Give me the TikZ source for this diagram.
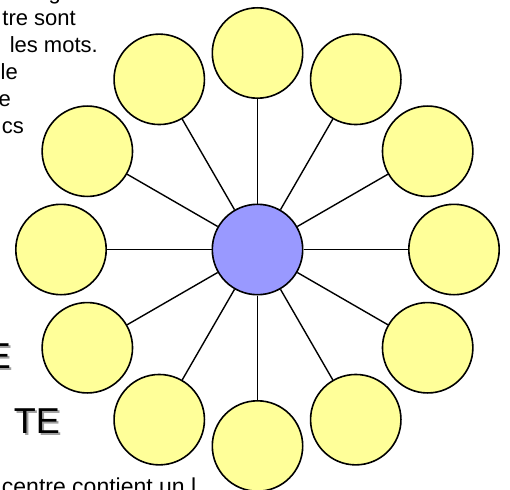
\documentclass[tikz,border=0pt]{standalone}
\usepackage{fontspec}
\setmainfont{Liberation Sans}
\definecolor{petalfill}{HTML}{FFFF99}
\definecolor{hubfill}{HTML}{9999FF}
\definecolor{shadowgray}{HTML}{A0A0A0}
\begin{document}
\begin{tikzpicture}[x=1pt,y=-1pt,
  petal/.style={circle,draw=black,line width=1.6pt,fill=petalfill,minimum size=90.4pt,inner sep=0pt},
  hub/.style={circle,draw=black,line width=1.6pt,fill=hubfill,minimum size=90.4pt,inner sep=0pt},
  spoke/.style={draw=black,line width=1.4pt},
  bodytext/.style={anchor=base east,inner sep=0pt,font=\fontsize{22}{26}\selectfont},
  bigtext/.style={anchor=base east,inner sep=0pt,font=\fontsize{36}{40}\selectfont},
  bigshadow/.style={bigtext,text=shadowgray}]
\useasboundingbox (0,0) rectangle (510,489);
% text fragments (top left)
\node[bodytext] (t1) at (61,-0.75) {g};
\node[bodytext] (t2) at (76,26) {tre sont};
\node[bodytext] (t3) at (98,53) {les mots.};
\node[bodytext] (t4) at (18,80) {le};
\node[bodytext] (t5) at (11,106.5) {e};
\node[bodytext] (t6) at (24,133) {cs};
% big letters with shadow
\node[bigshadow] (e1s) at (13,370) {E};
\node[bigtext] (e1) at (11,368) {E};
\node[bigshadow] (e2s) at (62,435) {TE};
\node[bigtext] (e2) at (60,433) {TE};
% bottom text
\node[anchor=base east,inner sep=0pt,font=\fontsize{23}{27}\selectfont] (b1) at (196.5,494) {centre contient un l};
% diagram
\node[hub] (c) at (257.5,249.5) {};
\foreach \i in {0,...,11}{
  \pgfmathsetmacro{\ang}{90-30*\i}
  \node[petal] (p\i) at ({257.5+196.5*cos(\ang)},{249.5-196.5*sin(\ang)}) {};
  \draw[spoke] (c) -- (p\i);
}
\end{tikzpicture}
\end{document}
